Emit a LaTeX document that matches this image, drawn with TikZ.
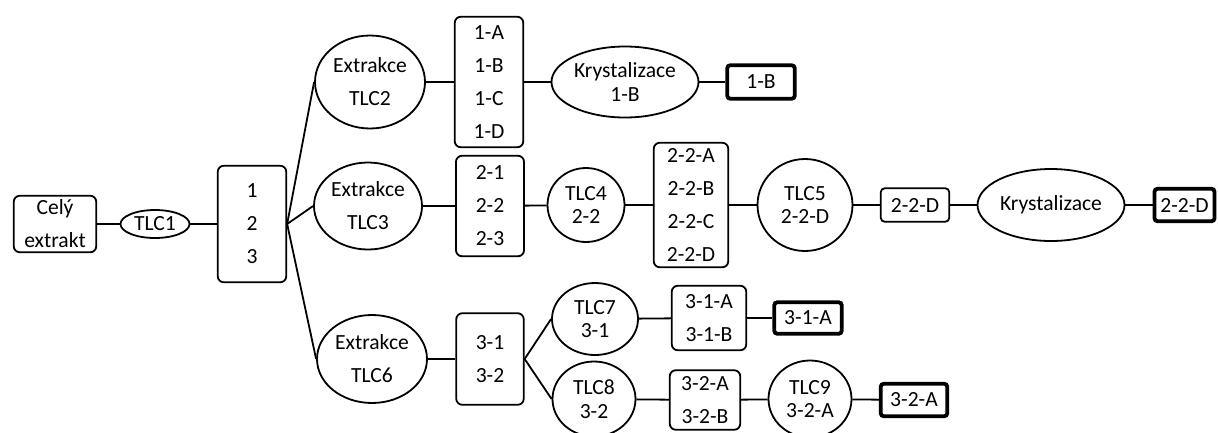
\documentclass[tikz,border=0pt]{standalone}
\usepackage{fontspec}
\setmainfont{Carlito}
\usetikzlibrary{shapes.geometric}
\tikzset{
  every node/.style={inner sep=0pt, font=\fontsize{21.6}{33}\selectfont, align=center},
  box/.style={draw, line width=1.8pt, rounded corners=6pt, rectangle},
  res/.style={draw, line width=3.8pt, rounded corners=3pt, rectangle},
  ell/.style={draw, line width=1.8pt, ellipse},
  tight/.style={font=\fontsize{21.6}{23.5}\selectfont},
  link/.style={line width=1.8pt},
}
\begin{document}
\begin{tikzpicture}[x=1pt,y=-1pt]
\useasboundingbox (0,0) rectangle (1218,432);
% left part
\node[box, minimum width=82.5pt, minimum height=56.5pt] (cely) at (55,224) {Celý\\extrakt};
\node[ell, minimum width=69pt, minimum height=28pt] (tlc1) at (155,224) {TLC1};
\node[box, minimum width=68.5pt, minimum height=116.5pt] (b123) at (252,224) {1\\2\\3};
% extraction ellipses
\node[ell, minimum width=110pt, minimum height=93pt] (tlc2) at (370,82) {Extrakce\\TLC2};
\node[ell, minimum width=108pt, minimum height=87pt] (tlc3) at (368,206) {Extrakce\\TLC3};
\node[ell, minimum width=110pt, minimum height=88pt] (tlc6) at (372,359) {Extrakce\\TLC6};
% row 1
\node[box, minimum width=68.5pt, minimum height=130.5pt] (b1) at (489,82) {1-A\\1-B\\1-C\\1-D};
\node[ell, tight, minimum width=147pt, minimum height=71pt] (k1) at (625,82) {Krystalizace\\1-B};
\node[res, minimum width=67.5pt, minimum height=33.5pt] (r1) at (761,82) {1-B};
% row 2
\node[box, minimum width=68pt, minimum height=100.5pt] (b2) at (490,206) {2-1\\2-2\\2-3};
\node[ell, tight, minimum width=77pt, minimum height=74pt] (tlc4) at (586,205) {TLC4\\2-2};
\node[box, minimum width=74.5pt, minimum height=124.5pt] (b22) at (691,205) {2-2-A\\2-2-B\\2-2-C\\2-2-D};
\node[ell, tight, minimum width=95pt, minimum height=92pt] (tlc5) at (805,205) {TLC5\\2-2-D};
\node[box, rounded corners=4pt, minimum width=68.5pt, minimum height=33.5pt] (b22d) at (915,205) {2-2-D};
\node[ell, minimum width=147pt, minimum height=72pt] (k2) at (1051,205) {Krystalizace};
\node[res, minimum width=60pt, minimum height=32.5pt] (r22d) at (1184.5,205) {2-2-D};
% row 3
\node[box, minimum width=67.5pt, minimum height=91.5pt] (b3) at (490,359) {3-1\\3-2};
\node[ell, tight, minimum width=86pt, minimum height=72pt] (tlc7) at (595,319) {TLC7\\3-1};
\node[box, minimum width=74.5pt, minimum height=64.5pt] (b31) at (709,318) {3-1-A\\3-1-B};
\node[res, minimum width=67.5pt, minimum height=31.5pt] (r31) at (808,318) {3-1-A};
\node[ell, tight, minimum width=83pt, minimum height=75pt] (tlc8) at (594,399) {TLC8\\3-2};
\node[box, minimum width=70.5pt, minimum height=59.5pt] (b32) at (705,400) {3-2-A\\3-2-B};
\node[ell, tight, minimum width=83pt, minimum height=77pt] (tlc9) at (810,399) {TLC9\\3-2-A};
\node[res, minimum width=66.5pt, minimum height=32.5pt] (r32) at (914,400) {3-2-A};
% connectors
\draw[link] (cely) -- (tlc1);
\draw[link] (tlc1) -- (b123);
\draw[link] (b123.east) -- (tlc2.west);
\draw[link] (b123.east) -- (tlc3.west);
\draw[link] (b123.east) -- (tlc6.west);
\draw[link] (tlc2) -- (b1);
\draw[link] (b1) -- (k1);
\draw[link] (k1) -- (r1);
\draw[link] (tlc3) -- (b2);
\draw[link] (b2) -- (tlc4);
\draw[link] (tlc4) -- (b22);
\draw[link] (b22) -- (tlc5);
\draw[link] (tlc5) -- (b22d);
\draw[link] (b22d) -- (k2);
\draw[link] (k2) -- (r22d);
\draw[link] (tlc6) -- (b3);
\draw[link] (b3.east) -- (tlc7.west);
\draw[link] (b3.east) -- (tlc8.west);
\draw[link] (tlc7) -- (b31);
\draw[link] (b31) -- (r31);
\draw[link] (tlc8) -- (b32);
\draw[link] (b32) -- (tlc9);
\draw[link] (tlc9) -- (r32);
\end{tikzpicture}
\end{document}
